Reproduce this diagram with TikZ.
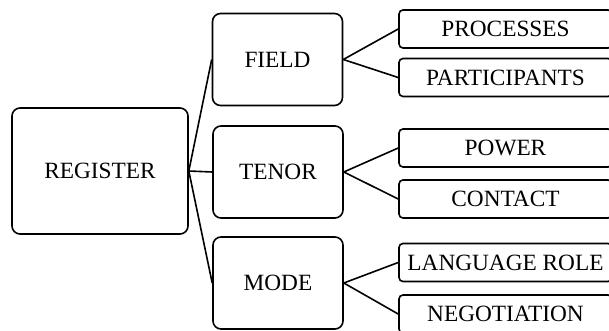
\documentclass[tikz,border=0pt]{standalone}
\usepackage{fontspec}
\setmainfont{Liberation Serif}
\begin{document}
\begin{tikzpicture}[x=1pt, y=-1pt, line width=1.6pt,
  bigbox/.style={draw, rounded corners=8pt, minimum width=130pt, minimum height=92pt, inner sep=0pt},
  smallbox/.style={draw, rounded corners=4pt, minimum width=213pt, minimum height=38pt, inner sep=0pt},
  font=\fontsize{23.3}{27}\selectfont]
\useasboundingbox (0,0) rectangle (609,331);
\node[bigbox, minimum width=176pt, minimum height=126pt] (reg) at (100, 171) {REGISTER};
\node[bigbox] (field) at (277.5, 59.5) {FIELD};
\node[bigbox] (tenor) at (278, 172) {TENOR};
\node[bigbox] (mode) at (278, 283) {MODE};

\node[smallbox] (proc) at (505.5, 29) {PROCESSES};
\node[smallbox] (part) at (505.5, 77.5) {PARTICIPANTS};
\node[smallbox] (power) at (505.5, 148) {POWER};
\node[smallbox] (contact) at (505.5, 199) {CONTACT};
\node[smallbox] (langrole) at (505.5, 262.5) {LANGUAGE ROLE};
\node[smallbox] (negot) at (505.5, 314) {NEGOTIATION};

\draw (reg.east) -- (field.west);
\draw (reg.east) -- (tenor.west);
\draw (reg.east) -- (mode.west);
\draw (field.east) -- (proc.west);
\draw (field.east) -- (part.west);
\draw (tenor.east) -- (power.west);
\draw (tenor.east) -- (contact.west);
\draw (mode.east) -- (langrole.west);
\draw (mode.east) -- (negot.west);
\end{tikzpicture}
\end{document}
